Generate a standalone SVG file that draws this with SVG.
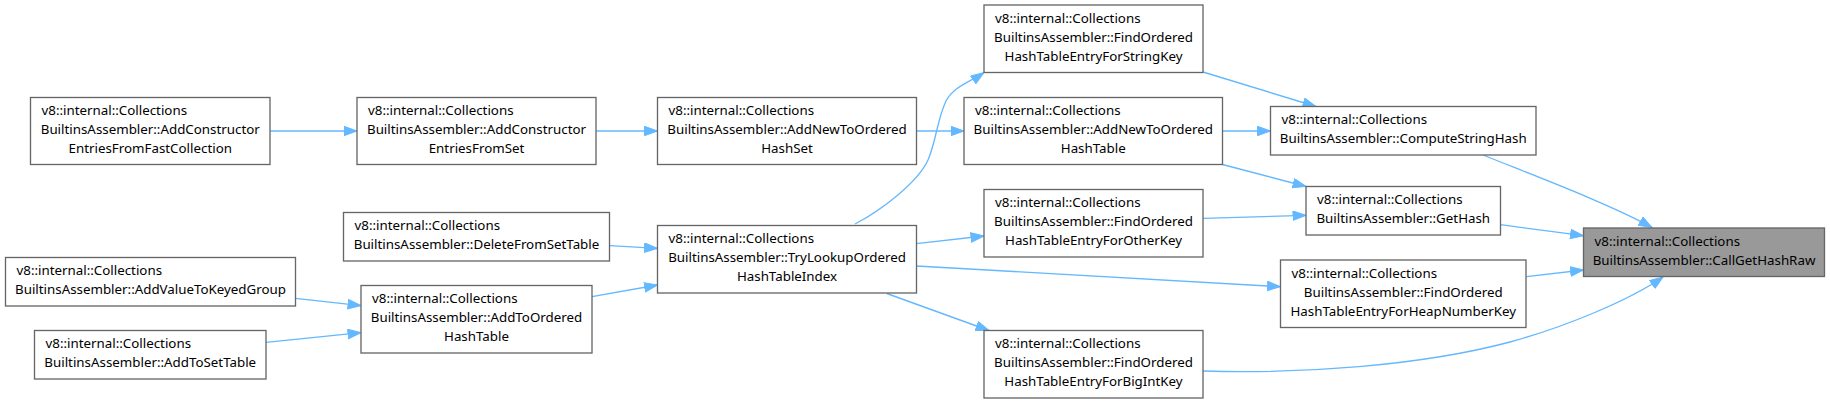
<svg xmlns="http://www.w3.org/2000/svg" width="1830" height="404" viewBox="0 0 1830 404">
<style>
.node rect{fill:#ffffff;stroke:#666666;stroke-width:1.33}
.node.hl rect{fill:#999999}
text{font-family:"Noto Sans","DejaVu Sans",sans-serif;font-size:13.33px;fill:#000000}
.m{text-anchor:middle}
.edge path{fill:none;stroke:#63b8ff;stroke-width:1.33;marker-end:url(#ah)}
</style>
<defs>
<marker id="ah" markerUnits="userSpaceOnUse" markerWidth="15" markerHeight="11" viewBox="0 0 15 11" refX="13.5" refY="5" orient="auto">
<path d="M0.5,0.3 L13.5,5 L0.5,9.7 z" fill="#63b8ff" stroke="#63b8ff" stroke-width="1"/>
</marker>
</defs>
<g id="edges" class="edge">
<path d="M270,131 L357,131"/>
<path d="M596,131 L657.5,131"/>
<path d="M916.5,131 L964,131"/>
<path d="M610,245.7 L657.5,248.3"/>
<path d="M592,296.7 L657.5,285"/>
<path d="M295.5,298.3 L361,305.7"/>
<path d="M266,342.3 L361,332.7"/>
<path d="M855,224 C882,210 918,182 928,160 C936,142 937,120 946,101 C953,87 970,82 984,72.5"/>
<path d="M916.5,243.7 L984,236"/>
<path d="M916.5,266 L1280.5,286.7"/>
<path d="M886.8,293.5 L989,330.5"/>
<path d="M1203,72 L1316,106.5"/>
<path d="M1222.5,131 L1270.5,131"/>
<path d="M1222.5,164.5 L1306,186.5"/>
<path d="M1203,218.3 L1306,215.3"/>
<path d="M1483,155 C1530,174 1610,204 1652,227.5"/>
<path d="M1500.5,224.7 L1583.5,235.7"/>
<path d="M1526.5,276.7 L1583.5,270"/>
<path d="M1203,371 C1300,374 1420,366 1510,342 C1565,327 1630,300 1663,277"/>
</g>
<g id="n_fastcoll" class="node">
<rect x="30.5" y="97.5" width="239.5" height="67"/>
<text x="41.5" y="115">v8::internal::Collections</text>
<text class="m" x="150.25" y="134">BuiltinsAssembler::AddConstructor</text>
<text class="m" x="150.25" y="153">EntriesFromFastCollection</text>
</g>
<g id="n_fromset" class="node">
<rect x="357" y="97.5" width="239" height="67"/>
<text x="368" y="115">v8::internal::Collections</text>
<text class="m" x="476.5" y="134">BuiltinsAssembler::AddConstructor</text>
<text class="m" x="476.5" y="153">EntriesFromSet</text>
</g>
<g id="n_newset" class="node">
<rect x="657.5" y="97.5" width="259" height="67"/>
<text x="668.5" y="115">v8::internal::Collections</text>
<text class="m" x="787" y="134">BuiltinsAssembler::AddNewToOrdered</text>
<text class="m" x="787" y="153">HashSet</text>
</g>
<g id="n_newtable" class="node">
<rect x="964" y="97.5" width="258.5" height="67"/>
<text x="975" y="115">v8::internal::Collections</text>
<text class="m" x="1093.25" y="134">BuiltinsAssembler::AddNewToOrdered</text>
<text class="m" x="1093.25" y="153">HashTable</text>
</g>
<g id="n_stringkey" class="node">
<rect x="984" y="5" width="219" height="67.5"/>
<text x="995" y="22.5">v8::internal::Collections</text>
<text class="m" x="1093.5" y="41.5">BuiltinsAssembler::FindOrdered</text>
<text class="m" x="1093.5" y="60.5">HashTableEntryForStringKey</text>
</g>
<g id="n_otherkey" class="node">
<rect x="984" y="189.5" width="219" height="67.5"/>
<text x="995" y="207">v8::internal::Collections</text>
<text class="m" x="1093.5" y="226">BuiltinsAssembler::FindOrdered</text>
<text class="m" x="1093.5" y="245">HashTableEntryForOtherKey</text>
</g>
<g id="n_bigint" class="node">
<rect x="984" y="330.5" width="219" height="67.5"/>
<text x="995" y="348">v8::internal::Collections</text>
<text class="m" x="1093.5" y="367">BuiltinsAssembler::FindOrdered</text>
<text class="m" x="1093.5" y="386">HashTableEntryForBigIntKey</text>
</g>
<g id="n_trylookup" class="node">
<rect x="657.5" y="225.5" width="259" height="67.5"/>
<text x="668.5" y="243">v8::internal::Collections</text>
<text class="m" x="787" y="262">BuiltinsAssembler::TryLookupOrdered</text>
<text class="m" x="787" y="281">HashTableIndex</text>
</g>
<g id="n_delete" class="node">
<rect x="343.5" y="212.5" width="266" height="48.5"/>
<text x="354.5" y="230">v8::internal::Collections</text>
<text class="m" x="476.5" y="249">BuiltinsAssembler::DeleteFromSetTable</text>
</g>
<g id="n_keyed" class="node">
<rect x="5.5" y="257.5" width="290" height="48.5"/>
<text x="16.5" y="275">v8::internal::Collections</text>
<text class="m" x="150.5" y="294">BuiltinsAssembler::AddValueToKeyedGroup</text>
</g>
<g id="n_settable" class="node">
<rect x="34.5" y="330.5" width="231.5" height="48.5"/>
<text x="45.5" y="348">v8::internal::Collections</text>
<text class="m" x="150.25" y="367">BuiltinsAssembler::AddToSetTable</text>
</g>
<g id="n_addtoordered" class="node">
<rect x="361" y="285.5" width="231" height="67.5"/>
<text x="372" y="303">v8::internal::Collections</text>
<text class="m" x="476.5" y="322">BuiltinsAssembler::AddToOrdered</text>
<text class="m" x="476.5" y="341">HashTable</text>
</g>
<g id="n_computestr" class="node">
<rect x="1270.5" y="106.5" width="265.5" height="48.5"/>
<text x="1281.5" y="124">v8::internal::Collections</text>
<text class="m" x="1403.25" y="143">BuiltinsAssembler::ComputeStringHash</text>
</g>
<g id="n_gethash" class="node">
<rect x="1306" y="186.5" width="194.5" height="48.5"/>
<text x="1317" y="204">v8::internal::Collections</text>
<text class="m" x="1403.25" y="223">BuiltinsAssembler::GetHash</text>
</g>
<g id="n_heapnum" class="node">
<rect x="1280.5" y="260" width="245.5" height="67.5"/>
<text x="1291.5" y="277.5">v8::internal::Collections</text>
<text class="m" x="1403.25" y="296.5">BuiltinsAssembler::FindOrdered</text>
<text class="m" x="1403.25" y="315.5">HashTableEntryForHeapNumberKey</text>
</g>
<g id="n_callgethashraw" class="node hl">
<rect x="1583.5" y="228" width="241" height="48.5"/>
<text x="1594.5" y="245.5">v8::internal::Collections</text>
<text class="m" x="1704" y="264.5">BuiltinsAssembler::CallGetHashRaw</text>
</g>
</svg>
